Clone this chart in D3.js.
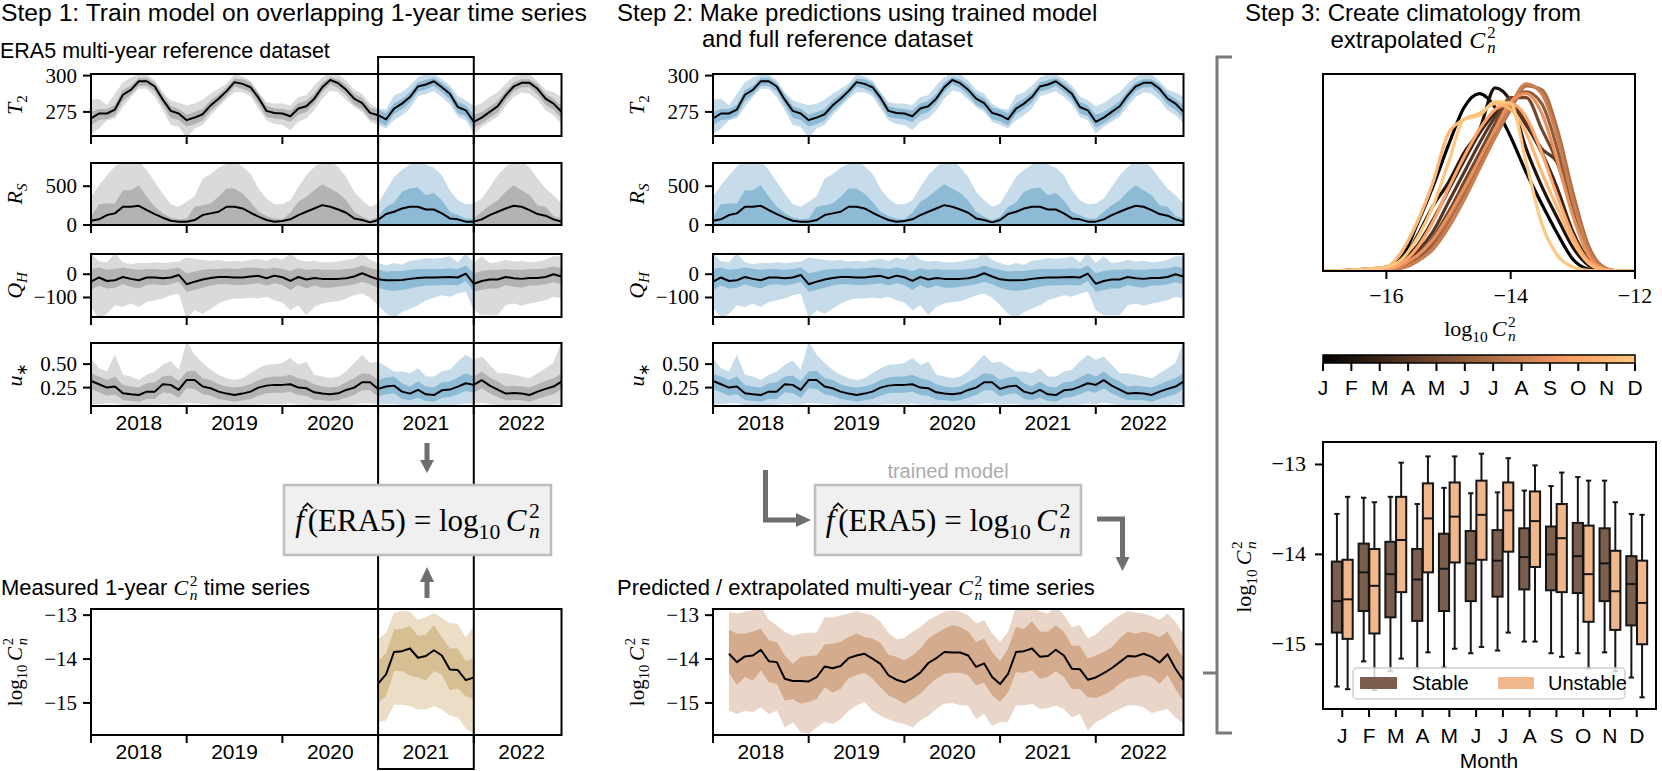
<!DOCTYPE html>
<html><head><meta charset="utf-8">
<script src="https://cdn.jsdelivr.net/npm/d3@7"></script>
<style>
body{margin:0;background:#fff}
svg{display:block}
text{white-space:pre}
</style>
</head><body>
<svg id="c" width="1662" height="771"></svg>
<script>
// ---------------- DATA ----------------
const yearLabels = ["2018","2019","2020","2021","2022"];
const yearTickMonths = [0,12,24,36,48];
const yearLabelMonths = [6,18,30,42,54];
const monthIdx = d3.range(60);          // monthly ERA5 samples, Jan 2018 .. Dec 2022
const predMonths = d3.range(2,60);      // predicted Cn2 samples
const measMonths = d3.range(36,49);     // measured 2021 Cn2 samples

const t2Mid=[270.5,273.9,273.9,276.6,286.8,290.2,296.1,296.1,292.5,283.4,275.7,273.9,269.3,271.1,273.4,279.5,284.1,289.3,295.5,294.3,292.0,284.8,275.7,274.3,273.9,272.0,277.3,278.9,284.1,292.0,297.0,294.8,290.2,284.1,281.1,274.3,272.7,269.8,277.3,280.7,285.2,292.5,293.9,296.1,292.0,287.5,278.4,276.1,268.2,271.1,275.0,278.9,286.4,292.5,295.0,295.0,290.9,284.1,280.7,275.0];
const t2InHi=[275,277,277,280,290,293,298.5,298.5,295,287,279,277,273,275,277,283,287,292,298,297.5,295,288,279,277.5,277,276,281,282.5,287.5,295,299,297.5,293.5,287.5,284.5,278,276.5,274,281,284,288.5,295.5,297,298.5,295,291,282,279.5,273,275,278.5,282.5,289.5,295.5,297.5,297.5,294,287.5,284,279];
const t2InLo=[266,269.5,270,272.5,282.5,287,293,293,289,279.5,271,269.5,265,266.5,269,275.5,280.5,286,292.5,291,288.5,280.5,271.5,270.5,270,268,273,275,280.5,288.5,294,291.5,286.5,280,277,270,268.5,265.5,273.5,277,281.5,289,290.5,293,288.5,283.5,274,272,264,267,271,274.5,282.5,289,292,292,287,280,276.5,270.5];
const t2OutHi=[283.4,284.1,279.5,287.5,295.5,298.9,301,301,296.6,288.6,283.0,281.1,279.5,280.7,283.4,287.5,290.9,294.3,301,299.3,296.6,288.6,281.8,280.7,280.7,279.5,285.2,286.4,293.2,298.9,302,301,296.6,290.2,287.5,280.7,277.3,276.6,286.4,288.6,293.2,298.9,301,301,297.7,293.2,285.7,283.0,278.9,281.1,285.2,288.6,294.3,299.3,301,301,296.1,290.2,288.6,285.2];
const t2OutLo=[259.8,263.6,269.3,270.5,278.4,285.2,290.9,290.9,285.2,276.1,265.9,264.8,257.0,263.6,265.9,272.7,278.4,284.1,288.6,288.6,285.7,277.3,269.3,266.6,265.9,262.5,268.2,270.5,276.1,284.1,289.8,288.6,283.4,278.4,275.0,268.2,265.9,263.6,269.3,272.7,277.3,285.7,287.5,289.3,285.2,280.2,271.6,269.3,260.2,264.8,268.2,271.6,278.9,285.2,288.6,287.5,283.0,276.1,272.7,267.0];

const rsMid=[55,73,128,150,235,235,248,192,141,94,55,43,43,64,128,150,171,235,235,213,158,107,64,43,51,73,128,171,213,256,235,200,158,85,64,34,64,141,171,213,235,235,200,200,150,85,73,43,43,73,128,171,213,248,235,192,141,120,73,43];
const rsInHi=[107,269,278,278,448,448,512,363,235,150,98,73,85,235,256,278,363,470,470,405,299,171,115,85,73,158,299,363,448,525,470,414,320,171,107,64,107,235,286,427,470,482,384,414,320,171,128,85,85,171,256,320,427,512,448,384,256,235,115,85];
const rsOutHi=[363,512,640,756,830,830,830,705,555,405,269,235,299,371,598,653,739,790,830,756,662,470,342,269,269,320,491,640,747,830,830,747,619,427,320,235,278,448,619,713,781,830,781,739,640,448,320,269,278,342,491,640,747,830,830,739,598,470,384,278];
const rsLow=0;

const qhMid=[-32,-14,-29,-26,-12,-20,-26,-14,-14,-17,-14,-3,-43,-32,-23,-16,-12,-12,-14,-14,-10,-7,-17,-6,-13,-29,-12,-23,-16,-20,-20,-20,-17,-10,4,-10,-22,-26,-26,-25,-20,-16,-14,-14,-13,-12,-14,3,-41,-29,-23,-23,-12,-17,-20,-16,-16,-12,0,-10];
const qhInHi=[23,29,19,23,29,23,19,23,23,19,23,29,4,12,19,23,23,26,23,26,29,26,23,29,23,14,26,19,23,19,19,19,23,26,38,26,19,12,14,14,19,23,23,23,23,26,23,38,4,14,19,19,23,19,19,23,23,26,33,26];
const qhInLo=[-68,-49,-61,-58,-43,-54,-61,-46,-43,-49,-43,-32,-75,-68,-58,-49,-43,-43,-46,-46,-43,-39,-49,-39,-46,-68,-46,-61,-49,-58,-58,-54,-49,-43,-32,-43,-58,-68,-72,-68,-61,-54,-49,-49,-46,-46,-49,-29,-75,-68,-61,-61,-46,-54,-58,-49,-49,-43,-35,-43];
const qhOutHi=[90,55,52,90,52,43,48,48,52,48,52,55,72,67,62,58,62,55,58,55,62,67,58,72,62,90,62,55,58,52,52,55,62,67,92,62,48,38,48,41,58,62,70,67,70,77,52,90,48,77,48,52,62,55,58,52,55,62,77,77];
const qhOutLo=[-141,-190,-170,-133,-141,-126,-141,-119,-112,-104,-90,-83,-190,-155,-170,-148,-126,-112,-104,-104,-101,-104,-97,-112,-122,-155,-133,-177,-141,-126,-119,-116,-104,-90,-83,-101,-133,-170,-190,-162,-148,-133,-112,-101,-90,-97,-83,-75,-155,-177,-177,-177,-133,-126,-136,-126,-119,-112,-97,-104];

const usMid=[0.321,0.286,0.25,0.261,0.189,0.179,0.171,0.207,0.207,0.286,0.279,0.225,0.332,0.332,0.261,0.243,0.207,0.186,0.171,0.186,0.207,0.25,0.271,0.279,0.279,0.286,0.25,0.243,0.2,0.186,0.179,0.189,0.225,0.25,0.307,0.307,0.236,0.261,0.271,0.207,0.186,0.225,0.179,0.171,0.221,0.229,0.261,0.296,0.279,0.329,0.271,0.229,0.186,0.193,0.186,0.171,0.207,0.236,0.261,0.314];
const usInHi=[0.404,0.368,0.332,0.368,0.279,0.261,0.25,0.296,0.307,0.368,0.379,0.321,0.421,0.429,0.35,0.332,0.286,0.261,0.25,0.261,0.286,0.332,0.357,0.368,0.368,0.386,0.35,0.332,0.286,0.261,0.25,0.261,0.307,0.35,0.404,0.393,0.332,0.357,0.368,0.296,0.261,0.314,0.261,0.25,0.307,0.314,0.357,0.404,0.368,0.421,0.357,0.314,0.261,0.271,0.261,0.25,0.286,0.321,0.35,0.404];
const usInLo=[0.236,0.2,0.164,0.179,0.118,0.107,0.1,0.129,0.129,0.2,0.189,0.143,0.243,0.236,0.179,0.164,0.129,0.114,0.1,0.114,0.129,0.164,0.189,0.196,0.196,0.207,0.171,0.164,0.121,0.114,0.107,0.114,0.143,0.171,0.221,0.221,0.154,0.179,0.189,0.129,0.114,0.143,0.107,0.1,0.143,0.15,0.179,0.214,0.196,0.243,0.189,0.15,0.114,0.118,0.114,0.1,0.129,0.154,0.179,0.236];
const usOutHi=[0.564,0.457,0.421,0.6,0.386,0.368,0.332,0.386,0.421,0.493,0.536,0.439,0.74,0.6,0.511,0.439,0.386,0.35,0.332,0.35,0.404,0.457,0.493,0.5,0.511,0.564,0.493,0.529,0.386,0.368,0.35,0.368,0.421,0.511,0.6,0.511,0.529,0.475,0.421,0.421,0.404,0.457,0.368,0.368,0.421,0.439,0.529,0.6,0.546,0.582,0.493,0.404,0.404,0.386,0.368,0.35,0.404,0.457,0.511,0.74];
const usOutLo=[0.07,0.075,0.08,0.08,0.065,0.06,0.06,0.065,0.07,0.075,0.07,0.07,0.085,0.08,0.075,0.07,0.065,0.06,0.055,0.06,0.065,0.07,0.075,0.075,0.075,0.08,0.07,0.07,0.06,0.06,0.055,0.06,0.065,0.07,0.08,0.08,0.07,0.075,0.075,0.065,0.06,0.065,0.055,0.055,0.065,0.065,0.07,0.08,0.075,0.085,0.075,0.065,0.06,0.06,0.06,0.055,0.06,0.065,0.07,0.08];

const predMid=[-13.88,-14.07,-13.94,-13.92,-13.79,-14.05,-14.07,-14.45,-14.50,-14.50,-14.51,-14.41,-14.17,-14.21,-14.16,-13.98,-13.92,-13.88,-13.99,-14.11,-14.37,-14.47,-14.53,-14.44,-14.31,-14.09,-13.98,-13.84,-13.85,-13.85,-13.92,-14.18,-14.10,-14.41,-14.57,-14.34,-13.84,-13.82,-13.76,-13.95,-13.93,-13.79,-13.92,-14.22,-14.23,-14.47,-14.42,-14.32,-14.21,-14.07,-13.93,-13.94,-13.88,-13.95,-14.08,-13.89,-14.22,-14.49];
const predInHi=[-13.33,-13.42,-13.42,-13.37,-13.31,-13.57,-13.61,-13.92,-14.11,-13.95,-13.93,-13.92,-13.67,-13.65,-13.61,-13.50,-13.42,-13.50,-13.53,-13.63,-13.90,-13.95,-14.03,-13.92,-13.76,-13.53,-13.42,-13.31,-13.23,-13.27,-13.37,-13.61,-13.53,-13.84,-14.05,-13.76,-13.27,-13.31,-13.14,-13.38,-13.37,-13.23,-13.38,-13.69,-13.70,-13.99,-13.92,-13.84,-13.73,-13.53,-13.38,-13.42,-13.37,-13.42,-13.50,-13.38,-13.69,-13.99];
const predInLo=[-14.31,-14.59,-14.41,-14.49,-14.26,-14.53,-14.56,-14.95,-14.91,-15.02,-14.98,-14.91,-14.64,-14.76,-14.68,-14.44,-14.37,-14.31,-14.45,-14.64,-14.83,-14.91,-15.02,-14.91,-14.79,-14.60,-14.45,-14.34,-14.31,-14.31,-14.37,-14.60,-14.54,-14.83,-14.97,-14.76,-14.30,-14.31,-14.26,-14.45,-14.41,-14.28,-14.41,-14.69,-14.68,-14.87,-14.89,-14.82,-14.72,-14.56,-14.45,-14.41,-14.37,-14.41,-14.56,-14.37,-14.68,-14.97];
const predOutHi=[-12.92,-12.96,-12.92,-12.89,-12.80,-13.11,-13.23,-13.38,-13.47,-13.42,-13.40,-13.40,-13.04,-13.06,-13.00,-12.96,-12.91,-12.96,-13.00,-13.15,-13.40,-13.55,-13.52,-13.38,-13.27,-13.11,-13.02,-12.92,-12.89,-12.92,-13.00,-13.19,-13.11,-13.42,-13.61,-13.38,-12.80,-12.80,-12.80,-12.92,-12.96,-12.80,-13.00,-13.27,-13.23,-13.53,-13.44,-13.27,-13.14,-13.00,-12.91,-12.94,-12.96,-13.02,-13.11,-12.96,-13.15,-13.46];
const predOutLo=[-15.18,-15.25,-15.18,-15.21,-15.10,-15.25,-15.18,-15.56,-15.44,-15.67,-15.71,-15.56,-15.43,-15.48,-15.37,-15.18,-15.06,-14.97,-15.18,-15.29,-15.37,-15.44,-15.48,-15.56,-15.40,-15.29,-15.14,-15.02,-15.00,-15.05,-15.06,-15.37,-15.25,-15.52,-15.44,-15.43,-15.05,-15.06,-15.02,-15.14,-15.12,-15.06,-15.14,-15.33,-15.25,-15.63,-15.44,-15.35,-15.23,-15.14,-15.06,-15.05,-15.10,-15.23,-15.18,-15.14,-15.33,-15.48];

const measMid=[-14.56,-14.35,-13.84,-13.82,-13.76,-13.97,-13.93,-13.80,-13.92,-14.24,-14.25,-14.48,-14.42];
const measInHi=[-14.05,-13.87,-13.33,-13.31,-13.25,-13.47,-13.44,-13.22,-13.51,-13.76,-13.76,-14.05,-13.97];
const measInLo=[-15.00,-14.85,-14.27,-14.27,-14.38,-14.42,-14.49,-14.27,-14.35,-14.71,-14.67,-14.85,-14.91];
const measOutHi=[-13.55,-13.40,-12.95,-12.90,-12.92,-13.11,-13.04,-12.95,-13.07,-13.18,-13.20,-13.51,-13.25];
const measOutLo=[-15.44,-15.40,-15.04,-15.04,-15.07,-15.15,-15.15,-15.07,-15.15,-15.29,-15.33,-15.58,-15.70];

const monthLetters=["J","F","M","A","M","J","J","A","S","O","N","D"];
const kdeX=[-17,-16.75,-16.5,-16.25,-16,-15.75,-15.5,-15.25,-15,-14.75,-14.5,-14.25,-14,-13.75,-13.5,-13.25,-13,-12.75,-12.5,-12.25,-12];
const kdeJan=[0,0.002,0.005,0.01,0.02,0.07,0.24,0.43,0.64,0.83,0.90,0.83,0.68,0.50,0.34,0.19,0.06,0.01,0.001,0,0];
const kdeFeb=[0,0.002,0.005,0.01,0.015,0.05,0.18,0.33,0.45,0.60,0.72,0.93,0.86,0.62,0.43,0.27,0.12,0.03,0.003,0,0];
const kdeMar=[0,0.002,0.006,0.012,0.015,0.05,0.13,0.26,0.41,0.56,0.70,0.80,0.84,0.74,0.60,0.42,0.20,0.06,0.01,0,0];
const kdeApr=[0,0.002,0.005,0.01,0.01,0.04,0.10,0.20,0.35,0.50,0.65,0.78,0.85,0.75,0.62,0.55,0.32,0.10,0.01,0,0];
const kdeMay=[0,0.001,0.003,0.006,0.01,0.03,0.08,0.17,0.30,0.45,0.60,0.75,0.88,0.88,0.72,0.55,0.30,0.10,0.01,0,0];
const kdeJun=[0,0.001,0.002,0.004,0.005,0.02,0.06,0.14,0.27,0.42,0.56,0.70,0.84,0.91,0.85,0.62,0.32,0.10,0.01,0,0];
const kdeJul=[0,0.001,0.002,0.003,0.005,0.015,0.05,0.12,0.25,0.39,0.53,0.68,0.82,0.94,0.92,0.72,0.40,0.13,0.02,0,0];
const kdeAug=[0,0.001,0.002,0.003,0.005,0.015,0.05,0.11,0.22,0.36,0.52,0.68,0.84,0.95,0.90,0.68,0.36,0.11,0.015,0,0];
const kdeSep=[0,0.001,0.003,0.006,0.01,0.03,0.08,0.16,0.28,0.42,0.57,0.72,0.86,0.90,0.80,0.56,0.28,0.08,0.01,0,0];
const kdeOct=[0,0.002,0.004,0.008,0.01,0.04,0.12,0.25,0.42,0.58,0.72,0.82,0.85,0.78,0.60,0.38,0.18,0.05,0.01,0,0];
const kdeNov=[0,0.002,0.006,0.012,0.02,0.10,0.25,0.45,0.70,0.77,0.80,0.85,0.82,0.70,0.50,0.32,0.15,0.04,0.005,0,0];
const kdeDec=[0,0.002,0.006,0.012,0.02,0.06,0.17,0.33,0.55,0.77,0.79,0.86,0.85,0.55,0.24,0.08,0.02,0.003,0,0,0];

// boxplot stats per month: [whiskerLow, q1, median, q3, whiskerHigh]
const boxStable=[[-15.47,-14.87,-14.52,-14.08,-13.55],[-15.19,-14.63,-14.20,-13.88,-13.37],[-15.30,-14.70,-14.22,-13.86,-13.36],[-15.27,-14.74,-14.28,-13.94,-13.44],[-15.26,-14.63,-14.16,-13.77,-13.26],[-15.10,-14.52,-14.10,-13.74,-13.32],[-15.07,-14.47,-14.07,-13.73,-13.31],[-14.97,-14.39,-14.03,-13.71,-13.29],[-15.10,-14.40,-14.00,-13.69,-13.24],[-15.10,-14.43,-14.02,-13.65,-13.14],[-15.09,-14.52,-14.10,-13.71,-13.18],[-15.37,-14.79,-14.33,-14.02,-13.55]];
const boxUnstable=[[-15.50,-14.94,-14.50,-14.06,-13.36],[-15.51,-14.88,-14.35,-13.94,-13.42],[-15.16,-14.42,-13.84,-13.36,-12.98],[-15.09,-14.20,-13.60,-13.21,-12.91],[-15.05,-14.09,-13.58,-13.20,-12.91],[-15.03,-14.06,-13.56,-13.18,-12.88],[-14.87,-13.97,-13.51,-13.20,-12.93],[-14.97,-14.14,-13.63,-13.30,-13.01],[-15.14,-14.42,-13.82,-13.44,-13.09],[-15.27,-14.75,-14.22,-13.68,-13.18],[-15.30,-14.84,-14.41,-13.96,-13.42],[-15.59,-15.00,-14.54,-14.07,-13.56]];
const legendLabels=["Stable","Unstable"];

// ---------------- STYLE ----------------
const SANS="'Liberation Sans', Arial, Helvetica, sans-serif";
const SERIF="'Liberation Serif', 'Times New Roman', serif";
const GRAY=['#dadada','#b3b3b3'], BLUE=['#c6dcea','#8dbbd6'], PRED=['#ead6c8','#d5ab8d'], MEAS=['#ecdec6','#d8be93'];
const ARROW='#6e6e6e';
const svg=d3.select('#c');
let clipN=0;

function txt(x,y,s,o={}){
  const t=svg.append('text').attr('x',x).attr('y',y).attr('font-family',o.family||SANS).attr('font-size',o.size||22).attr('fill',o.fill||'#000');
  if(o.anchor) t.attr('text-anchor',o.anchor);
  if(o.transform) t.attr('transform',o.transform);
  if(s) t.text(s);
  return t;
}
function ts(t,s,o={}){
  const e=t.append('tspan').text(s);
  if(o.family) e.attr('font-family',o.family);
  if(o.italic) e.attr('font-style','italic');
  if(o.size) e.attr('font-size',o.size);
  if(o.dx!=null) e.attr('dx',o.dx);
  if(o.dy!=null) e.attr('dy',o.dy);
  return e;
}
function cn2(t,fs,dx){
  ts(t,'C',{family:SERIF,italic:true,size:fs,dx:dx||0});
  ts(t,'2',{family:SERIF,size:fs*0.7,dx:fs*0.08,dy:-fs*0.42});
  ts(t,'n',{family:SERIF,italic:true,size:fs*0.7,dx:-fs*0.35,dy:fs*0.64});
  return -fs*0.22;
}
function logcn2(t,fs){
  ts(t,'log',{family:SERIF,size:fs});
  ts(t,'10',{family:SERIF,size:fs*0.7,dy:fs*0.25});
  ts(t,'C',{family:SERIF,italic:true,size:fs,dx:fs*0.18,dy:-fs*0.25});
  ts(t,'2',{family:SERIF,size:fs*0.7,dx:fs*0.08,dy:-fs*0.42});
  ts(t,'n',{family:SERIF,italic:true,size:fs*0.7,dx:-fs*0.35,dy:fs*0.64});
}
const minus=s=>String(s).replace('-','\u2212');

// ---------------- TIME-SERIES PANELS ----------------
const PW=470.5;
const rows=[
 {top:74,bot:136,dom:[258.4,301.1],ticks:[275,300],fmt:d=>String(d),label:'T',sub:'2',subIt:false,
  data:{t:monthIdx,mid:t2Mid,inLo:t2InLo,inHi:t2InHi,outLo:t2OutLo,outHi:t2OutHi}},
 {top:163,bot:225,dom:[0,799],ticks:[0,500],fmt:d=>String(d),label:'R',sub:'S',subIt:true,
  data:{t:monthIdx,mid:rsMid,inLo:rsMid.map(()=>rsLow),inHi:rsInHi,outLo:rsMid.map(()=>rsLow),outHi:rsOutHi}},
 {top:254,bot:317,dom:[-184,87],ticks:[-100,0],fmt:d=>minus(d),label:'Q',sub:'H',subIt:true,
  data:{t:monthIdx,mid:qhMid,inLo:qhInLo,inHi:qhInHi,outLo:qhOutLo,outHi:qhOutHi}},
 {top:343,bot:406,dom:[0.054,0.725],ticks:[0.25,0.5],fmt:d=>d.toFixed(2),label:'u',sub:'\u2217',subIt:false,years:true,
  data:{t:monthIdx,mid:usMid,inLo:usInLo,inHi:usInHi,outLo:usOutLo,outHi:usOutHi}},
];
const cnRow={top:609,bot:735,dom:[-15.73,-12.86],ticks:[-15,-14,-13],fmt:d=>minus(d),years:true,cn:true};

function drawPanel(L,row,data,segs){
  const x=d3.scaleLinear().domain([0,59]).range([L,L+PW]);
  const y=d3.scaleLinear().domain(row.dom).range([row.bot,row.top]);
  const g=svg.append('g');
  const idx=d3.range(data.mid.length);
  segs.forEach(s=>{
    const id='clip'+(clipN++);
    svg.append('clipPath').attr('id',id).append('rect')
      .attr('x',x(s.a)).attr('y',row.top).attr('width',x(s.b)-x(s.a)).attr('height',row.bot-row.top);
    const gg=g.append('g').attr('clip-path',`url(#${id})`);
    const aOut=d3.area().x(i=>x(data.t[i])).y0(i=>y(data.outLo[i])).y1(i=>y(data.outHi[i]));
    const aIn=d3.area().x(i=>x(data.t[i])).y0(i=>y(data.inLo[i])).y1(i=>y(data.inHi[i]));
    gg.append('path').attr('d',aOut(idx)).attr('fill',s.c[0]);
    gg.append('path').attr('d',aIn(idx)).attr('fill',s.c[1]);
  });
  const pid='clip'+(clipN++);
  svg.append('clipPath').attr('id',pid).append('rect').attr('x',L).attr('y',row.top-2).attr('width',PW).attr('height',row.bot-row.top+4);
  const line=d3.line().x(i=>x(data.t[i])).y(i=>y(data.mid[i]));
  g.append('path').attr('clip-path',`url(#${pid})`).attr('d',line(idx)).attr('fill','none').attr('stroke','#000').attr('stroke-width',2).attr('stroke-linejoin','round');
  g.append('rect').attr('x',L).attr('y',row.top).attr('width',PW).attr('height',row.bot-row.top).attr('fill','none').attr('stroke','#000').attr('stroke-width',2);
  row.ticks.forEach(v=>{
    g.append('line').attr('x1',L-8).attr('x2',L).attr('y1',y(v)).attr('y2',y(v)).attr('stroke','#000').attr('stroke-width',2);
    txt(L-14,y(v)+7,row.fmt(v),{family:SERIF,size:21,anchor:'end'});
  });
  yearTickMonths.forEach(m=>{
    g.append('line').attr('x1',x(m)).attr('x2',x(m)).attr('y1',row.bot).attr('y2',row.bot+8).attr('stroke','#000').attr('stroke-width',2);
  });
  if(row.years){
    yearLabelMonths.forEach((m,i)=>txt(x(m),row.bot+23.5,yearLabels[i],{size:21,anchor:'middle'}));
  }
  const cy=(row.top+row.bot)/2, cx=L-78;
  const t=svg.append('text').attr('transform',`translate(${cx+9},${cy}) rotate(-90)`).attr('text-anchor','middle').attr('font-size',22).attr('font-family',SERIF);
  if(row.cn){ logcn2(t,21); }
  else {
    ts(t,row.label,{italic:true});
    ts(t,row.sub,{italic:row.subIt,size:15,dy:5});
  }
  return x;
}

const S1=91, S2=713;
let x1;
rows.forEach(r=>{
  x1=drawPanel(S1,r,r.data,[{a:0,b:36,c:GRAY},{a:36,b:48,c:BLUE},{a:48,b:59,c:GRAY}]);
  drawPanel(S2,r,r.data,[{a:0,b:59,c:BLUE}]);
});
drawPanel(S1,cnRow,{t:measMonths,mid:measMid,inLo:measInLo,inHi:measInHi,outLo:measOutLo,outHi:measOutHi},[{a:0,b:59,c:MEAS}]);
drawPanel(S2,cnRow,{t:predMonths,mid:predMid,inLo:predInLo,inHi:predInHi,outLo:predOutLo,outHi:predOutHi},[{a:0,b:59,c:PRED}]);

// 2021 highlight box
svg.append('rect').attr('x',x1(36)).attr('y',57).attr('width',x1(48)-x1(36)).attr('height',712)
  .attr('fill','none').attr('stroke','#000').attr('stroke-width',2);

// ---------------- TITLES ----------------
txt(1,21,'Step 1: Train model on overlapping 1-year time series',{size:24.7});
txt(0,58,'ERA5 multi-year reference dataset',{size:21.5});
txt(617,21,'Step 2: Make predictions using trained model',{size:24});
txt(702,47,'and full reference dataset',{size:24});
txt(1413,21,'Step 3: Create climatology from',{size:24,anchor:'middle'});
{ const t=txt(1413,48,'',{size:24,anchor:'middle'}); ts(t,'extrapolated '); cn2(t,24); }
{ const t=txt(1,595,'',{size:22}); ts(t,'Measured 1-year '); const r=cn2(t,22); ts(t,' time series',{dy:r}); }
{ const t=txt(617,595,'',{size:22}); ts(t,'Predicted / extrapolated multi-year '); const r=cn2(t,22); ts(t,' time series',{dy:r}); }
txt(948,478,'trained model',{size:20,fill:'#ababab',anchor:'middle'});

// ---------------- FORMULA BOXES ----------------
function formula(x0,x1b){
  svg.append('rect').attr('x',x0).attr('y',485).attr('width',x1b-x0).attr('height',70).attr('fill','#f0f0f0').attr('stroke','#bdbdbd').attr('stroke-width',2.5);
  const fs=31, cx=(x0+x1b)/2, by=531;
  const t=txt(cx,by,'',{family:SERIF,size:fs,anchor:'middle'});
  ts(t,'f',{italic:true});
  ts(t,'(ERA5) = log',{dx:4});
  ts(t,'10',{size:fs*0.7,dy:fs*0.25});
  ts(t,'C',{italic:true,dx:fs*0.18,dy:-fs*0.25});
  ts(t,'2',{size:fs*0.7,dx:fs*0.08,dy:-fs*0.42});
  ts(t,'n',{italic:true,size:fs*0.7,dx:-fs*0.35,dy:fs*0.64});
  const p=t.node().getStartPositionOfChar(0);
  const hx=p.x+fs*0.40, hy=by-fs*0.86;
  svg.append('path').attr('d',`M${hx-5},${hy+4} L${hx},${hy-1} L${hx+5},${hy+4}`).attr('fill','none').attr('stroke','#000').attr('stroke-width',1.6);
}
formula(284,551);
formula(815,1081);

// ---------------- ARROWS ----------------
function head(pts){ svg.append('polygon').attr('points',pts.map(p=>p.join(',')).join(' ')).attr('fill',ARROW); }
function shaft(d){ svg.append('path').attr('d',d).attr('fill','none').attr('stroke',ARROW).attr('stroke-width',5); }
shaft('M427,443 V461'); head([[420,460],[434,460],[427,473]]);
shaft('M427,598 V581'); head([[420,582],[434,582],[427,567]]);
shaft('M765.5,470 V520 H797'); head([[796,513],[796,527],[811,520]]);
shaft('M1097,519 H1122.5 V558'); head([[1115.5,557],[1129.5,557],[1122.5,571]]);

// bracket
svg.append('path').attr('d','M1232,57 H1217 V733 H1232 M1203,673 H1217').attr('fill','none').attr('stroke','#7a7a7a').attr('stroke-width',3);

// ---------------- KDE ----------------
const copper=t=>d3.rgb(Math.min(1,1.25*t)*255,0.7812*t*255,0.4975*t*255);
const kL=1323,kR=1635,kT=74,kB=271;
const xk=d3.scaleLinear().domain([-17.02,-12]).range([kL,kR]);
const yk=d3.scaleLinear().domain([0,1]).range([kB,kT]);
const kdeAll=[kdeJan,kdeFeb,kdeMar,kdeApr,kdeMay,kdeJun,kdeJul,kdeAug,kdeSep,kdeOct,kdeNov,kdeDec];
const kclip='clip'+(clipN++);
svg.append('clipPath').attr('id',kclip).append('rect').attr('x',kL).attr('y',kT).attr('width',kR-kL).attr('height',kB-kT);
const kg=svg.append('g').attr('clip-path',`url(#${kclip})`);
const kline=d3.line().x((d,i)=>xk(kdeX[i])).y(d=>yk(d)).curve(d3.curveMonotoneX);
kdeAll.forEach((arr,i)=>{
  kg.append('path').attr('d',kline(arr)).attr('fill','none').attr('stroke',copper(i/11)).attr('stroke-width',3.2).attr('stroke-linejoin','round');
});
svg.append('rect').attr('x',kL).attr('y',kT).attr('width',kR-kL).attr('height',kB-kT).attr('fill','none').attr('stroke','#000').attr('stroke-width',2);
[-16,-14,-12].forEach(v=>{
  svg.append('line').attr('x1',xk(v)).attr('x2',xk(v)).attr('y1',kB).attr('y2',kB+8).attr('stroke','#000').attr('stroke-width',2);
  txt(xk(v),kB+32,minus(v),{family:SERIF,size:22,anchor:'middle'});
});
{ const t=txt(1480,336,'',{family:SERIF,size:22,anchor:'middle'}); logcn2(t,22); }

// colorbar
const grad=svg.append('defs').append('linearGradient').attr('id','cop');
d3.range(0,1.0001,0.05).forEach(s=>grad.append('stop').attr('offset',s).attr('stop-color',copper(s)));
svg.append('rect').attr('x',kL).attr('y',355).attr('width',kR-kL).attr('height',8).attr('fill','url(#cop)').attr('stroke','#000').attr('stroke-width',1.5);
const xc=d3.scaleLinear().domain([0,11]).range([kL,kR]);
monthLetters.forEach((m,i)=>{
  svg.append('line').attr('x1',xc(i)).attr('x2',xc(i)).attr('y1',363).attr('y2',371).attr('stroke','#000').attr('stroke-width',2);
  txt(xc(i),395,m,{size:21,anchor:'middle'});
});

// ---------------- BOXPLOT ----------------
const bL=1323,bR=1656,bT=442,bB=709;
const xb=d3.scaleLinear().domain([-0.72,11.72]).range([bL,bR]);
const yb=d3.scaleLinear().domain([-15.72,-12.75]).range([bB,bT]);
const cols=['#7b5f4e','#f0b78d'];
const bg=svg.append('g');
[boxStable,boxUnstable].forEach((set,gi)=>{
  set.forEach((s,i)=>{
    const cx=xb(i+(gi?0.2:-0.2)), hw=xb(0.19)-xb(0), cw=xb(0.1)-xb(0);
    const ln=(xa,ya,xz,yz)=>bg.append('line').attr('x1',xa).attr('y1',ya).attr('x2',xz).attr('y2',yz).attr('stroke','#151515').attr('stroke-width',2);
    ln(cx,yb(s[0]),cx,yb(s[1])); ln(cx,yb(s[3]),cx,yb(s[4]));
    ln(cx-cw,yb(s[0]),cx+cw,yb(s[0])); ln(cx-cw,yb(s[4]),cx+cw,yb(s[4]));
    bg.append('rect').attr('x',cx-hw).attr('y',yb(s[3])).attr('width',2*hw).attr('height',yb(s[1])-yb(s[3])).attr('fill',cols[gi]).attr('stroke','#151515').attr('stroke-width',2);
    ln(cx-hw,yb(s[2]),cx+hw,yb(s[2]));
  });
});
svg.append('rect').attr('x',bL).attr('y',bT).attr('width',bR-bL).attr('height',bB-bT).attr('fill','none').attr('stroke','#000').attr('stroke-width',2);
[-15,-14,-13].forEach(v=>{
  svg.append('line').attr('x1',bL-8).attr('x2',bL).attr('y1',yb(v)).attr('y2',yb(v)).attr('stroke','#000').attr('stroke-width',2);
  txt(bL-17,yb(v)+7,minus(v),{family:SERIF,size:22,anchor:'end'});
});
monthLetters.forEach((m,i)=>{
  svg.append('line').attr('x1',xb(i)).attr('x2',xb(i)).attr('y1',bB).attr('y2',bB+8).attr('stroke','#000').attr('stroke-width',2);
  txt(xb(i),743,m,{size:21,anchor:'middle'});
});
txt(1489,768,'Month',{size:21,anchor:'middle'});
{ const t=svg.append('text').attr('transform','translate(1251,577) rotate(-90)').attr('text-anchor','middle').attr('font-family',SERIF).attr('font-size',22); logcn2(t,22); }
// legend
svg.append('rect').attr('x',1353).attr('y',668).attr('width',272).attr('height',31).attr('rx',4).attr('fill','#fff').attr('fill-opacity',0.8).attr('stroke','#d0d0d0').attr('stroke-width',1.5);
svg.append('rect').attr('x',1360).attr('y',677).attr('width',37).attr('height',12).attr('fill',cols[0]);
txt(1412,690,legendLabels[0],{size:20});
svg.append('rect').attr('x',1498).attr('y',677).attr('width',36).attr('height',12).attr('fill',cols[1]);
txt(1548,690,legendLabels[1],{size:20});
</script>
</body></html>
